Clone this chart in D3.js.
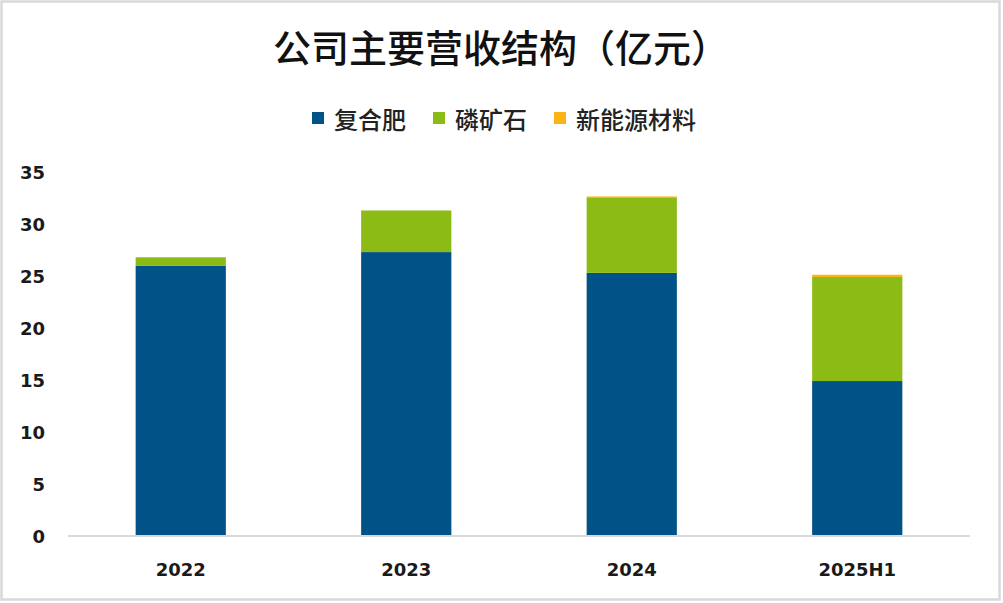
<!DOCTYPE html>
<html><head><meta charset="utf-8">
<script src="https://cdn.jsdelivr.net/npm/d3@7"></script>
<style>
html,body{margin:0;padding:0;background:#fff;}
svg{display:block;}
</style></head>
<body>
<svg id="chart" width="1003" height="603"></svg>
<script>
const categories = ["2022", "2023", "2024", "2025H1"];
const seriesNames = ["复合肥", "磷矿石", "新能源材料"];
const compoundFertilizer = [26.0, 27.3, 25.3, 14.9];
const phosphateRock = [0.8, 4.0, 7.2, 10.0];
const newEnergyMaterials = [0.0, 0.0, 0.15, 0.22];
const yTicks = [0, 5, 10, 15, 20, 25, 30, 35];
const titleText = "公司主要营收结构（亿元）";
const colors = ["#005287", "#8DBB16", "#FBB415"];

const seriesValues = [compoundFertilizer, phosphateRock, newEnergyMaterials];
const rows = categories.map((c, i) => {
  const r = {cat: c};
  seriesNames.forEach((s, j) => r[s] = seriesValues[j][i]);
  return r;
});

const svg = d3.select("#chart");

svg.append("rect").attr("x", 1.5).attr("y", 1.5).attr("width", 998).attr("height", 598)
  .attr("fill", "#fff").attr("stroke", "#d9d9d9").attr("stroke-width", 2.5);

const x = d3.scaleBand().domain(categories).range([68, 970]).paddingInner(0.6).paddingOuter(0.3);
const y = d3.scaleLinear().domain([0, 35]).range([536, 172]);

const stack = d3.stack().keys(seriesNames)(rows);

svg.append("g").selectAll("g").data(stack).join("g")
  .attr("fill", (d, i) => colors[i])
  .selectAll("rect").data(d => d).join("rect")
  .attr("x", d => x(d.data.cat))
  .attr("width", x.bandwidth())
  .attr("y", d => y(d[1]))
  .attr("height", d => Math.max(0, y(d[0]) - y(d[1])));

// y axis
const yAxis = d3.axisLeft(y).tickValues(yTicks).tickSize(0).tickPadding(0);
const yg = svg.append("g").attr("transform", "translate(45,0)").call(yAxis);
yg.select(".domain").remove();
yg.selectAll("text").attr("font-family", "DejaVu Sans").attr("font-weight", "bold")
  .attr("font-size", 18).attr("fill", "#1a1a1a").attr("dy", "0.36em");

// x axis
const xAxis = d3.axisBottom(x).tickSize(0).tickPadding(0);
const xg = svg.append("g").attr("transform", "translate(0,536)").call(xAxis);
xg.select(".domain").attr("stroke", "#d9d9d9").attr("stroke-width", 2)
  .attr("d", "M68,0H970");
xg.selectAll("text").attr("font-family", "DejaVu Sans").attr("font-weight", "bold")
  .attr("font-size", 18).attr("fill", "#1a1a1a").attr("y", 40).attr("dy", 0);

// title
svg.append("text").attr("x", 501).attr("y", 45).attr("text-anchor", "middle")
  .attr("dominant-baseline", "central")
  .attr("font-family", "Noto Sans CJK SC").attr("font-weight", 500)
  .attr("font-size", 38).attr("fill", "#111")
  .text(titleText);

// legend
const lg = svg.append("g");
let cx = 0;
seriesNames.forEach((s, i) => {
  const g = lg.append("g").attr("transform", `translate(${cx},0)`);
  g.append("rect").attr("x", 0).attr("y", -6).attr("width", 12).attr("height", 12).attr("fill", colors[i]);
  const t = g.append("text").attr("x", 22).attr("y", 0).attr("dominant-baseline", "central")
    .attr("font-family", "Noto Sans CJK SC").attr("font-weight", 500)
    .attr("font-size", 24).attr("fill", "#222").text(s);
  const w = t.node().getComputedTextLength();
  cx += 22 + w + 27;
});
const totalW = cx - 27;
lg.attr("transform", `translate(${504 - totalW / 2},118)`);
</script>
</body></html>
